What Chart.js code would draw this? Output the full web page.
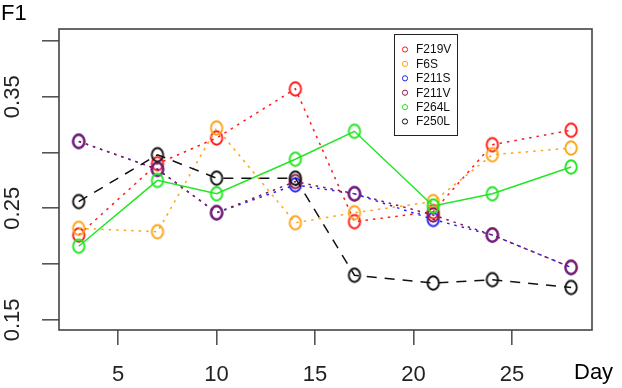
<!DOCTYPE html>
<html>
<head>
<meta charset="utf-8">
<script src="https://cdn.jsdelivr.net/npm/chart.js@4/dist/chart.umd.min.js"></script>
<style>
  html, body { margin: 0; padding: 0; background: #fff; }
  #wrap { width: 622px; height: 388px; }
</style>
</head>
<body>
<div id="wrap"><canvas id="c" width="622" height="388"></canvas></div>
<script>
// ---- data ----
const days = [3, 7, 10, 14, 17, 21, 24, 28];
const seriesNames = ['F219V', 'F6S', 'F211S', 'F211V', 'F264L', 'F250L'];
const F219V = [0.226, 0.290, 0.313, 0.357, 0.238, 0.247, 0.307, 0.320];
const F6S   = [0.232, 0.229, 0.322, 0.237, 0.246, 0.256, 0.298, 0.304];
const F211S = [0.310, 0.285, 0.246, 0.271, 0.263, 0.240, 0.226, 0.197];
const F211V = [0.310, 0.285, 0.246, 0.274, 0.263, 0.244, 0.226, 0.197];
const F264L = [0.216, 0.275, 0.263, 0.294, 0.319, 0.252, 0.263, 0.287];
const F250L = [0.256, 0.298, 0.277, 0.277, 0.190, 0.183, 0.186, 0.179];
const xTicks = [5, 10, 15, 20, 25];
const yTicks = [0.15, 0.20, 0.25, 0.30, 0.35, 0.40];
const yTickLabels = ['0.15', '', '0.25', '', '0.35', ''];
const yTitle = 'F1';
const xTitle = 'Day';

const values = [F219V, F6S, F211S, F211V, F264L, F250L];
const colors = ['#ff1a1a', '#ffa31a', '#2424ff', '#8a1c4e', '#22e622', '#111111'];
const dashes = [[2.5, 5], [2.5, 5], [2.5, 5], [2.5, 5], [], [10, 8]];
const FONT = '"Liberation Sans", Arial, sans-serif';

// "O"-shaped open marker (slightly taller than wide, like R's pch=1 in this image)
function oMarker(color) {
  const cv = document.createElement('canvas');
  cv.width = 16; cv.height = 18;
  const g = cv.getContext('2d');
  g.strokeStyle = color;
  g.lineWidth = 1.9;
  g.beginPath();
  g.ellipse(8, 9, 5.7, 6.7, 0, 0, Math.PI * 2);
  g.stroke();
  return cv;
}

const datasets = seriesNames.map((name, i) => ({
  label: name,
  data: days.map((d, j) => ({ x: d, y: values[i][j] })),
  borderColor: colors[i],
  borderWidth: 1.5,
  borderDash: dashes[i],
  pointStyle: oMarker(colors[i]),
  pointRadius: 7,
  pointHoverRadius: 7,
  fill: false,
  tension: 0,
  order: seriesNames.length - i
}));

const decor = {
  id: 'decor',
  afterDraw(chart) {
    const ctx = chart.ctx;
    const a = chart.chartArea;
    const ys = chart.scales.y;
    ctx.save();
    // plot box
    ctx.strokeStyle = '#444';
    ctx.lineWidth = 1.6;
    ctx.strokeRect(a.left, a.top, a.right - a.left, a.bottom - a.top);
    // y tick labels (rotated, R style)
    ctx.fillStyle = '#222';
    ctx.font = '22px ' + FONT;
    ctx.textAlign = 'center';
    ctx.textBaseline = 'middle';
    yTicks.forEach((v, i) => {
      const t = yTickLabels[i];
      if (!t) return;
      const py = ys.getPixelForValue(v);
      ctx.save();
      ctx.translate(13, py);
      ctx.rotate(-Math.PI / 2);
      ctx.fillText(t, 0, 0);
      ctx.restore();
    });
    // axis titles
    ctx.fillStyle = '#000';
    ctx.font = '22px ' + FONT;
    ctx.textAlign = 'left';
    ctx.textBaseline = 'alphabetic';
    ctx.fillText(yTitle, 1, 20);
    ctx.fillText(xTitle, 574, 379);
    // legend
    const lx = 394, ly = 34, lw = 63, lh = 101;
    ctx.fillStyle = '#fff';
    ctx.fillRect(lx, ly, lw, lh);
    ctx.strokeStyle = '#222';
    ctx.lineWidth = 1;
    ctx.strokeRect(lx + 0.5, ly + 0.5, lw, lh);
    ctx.font = '12px ' + FONT;
    ctx.textBaseline = 'middle';
    seriesNames.forEach((n, i) => {
      const y = 49.5 + i * 14.4;
      ctx.beginPath();
      ctx.strokeStyle = colors[i];
      ctx.lineWidth = 1;
      ctx.arc(405, y, 2.6, 0, Math.PI * 2);
      ctx.stroke();
      ctx.fillStyle = '#111';
      ctx.fillText(n, 416, y + 0.5);
    });
    ctx.restore();
  }
};

new Chart(document.getElementById('c'), {
  type: 'line',
  data: { datasets },
  options: {
    responsive: false,
    animation: false,
    devicePixelRatio: 1,
    layout: { padding: { top: 29, right: 30, left: 0, bottom: 0 } },
    plugins: { legend: { display: false }, tooltip: { enabled: false } },
    scales: {
      x: {
        type: 'linear',
        min: 2,
        max: 29.06,
        afterBuildTicks: s => { s.ticks = xTicks.map(v => ({ value: v })); },
        afterFit: s => { s.height = 58; },
        border: { display: false },
        grid: { drawOnChartArea: false, drawTicks: true, tickLength: 15, color: '#555', lineWidth: 1.6 },
        ticks: {
          color: '#222',
          font: { size: 22, family: FONT },
          padding: 17,
          maxRotation: 0,
          autoSkip: false
        }
      },
      y: {
        type: 'linear',
        min: 0.1409,
        max: 0.4107,
        afterBuildTicks: s => { s.ticks = yTicks.map(v => ({ value: v })); },
        afterFit: s => { s.width = 59; },
        border: { display: false },
        grid: { drawOnChartArea: false, drawTicks: true, tickLength: 17, color: '#555', lineWidth: 1.6 },
        ticks: { display: false }
      }
    }
  },
  plugins: [decor]
});
</script>
</body>
</html>
